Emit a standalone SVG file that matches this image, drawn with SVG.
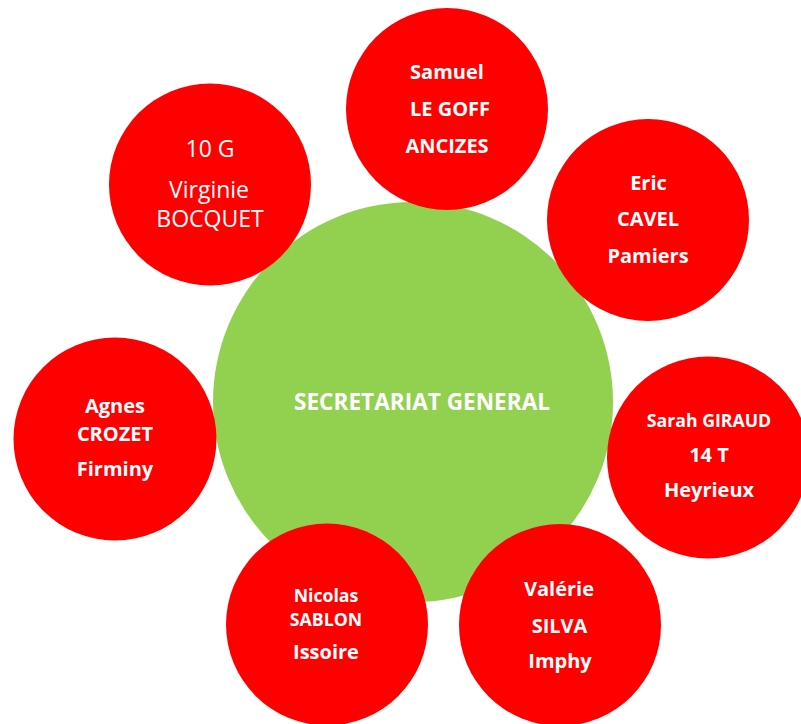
<svg xmlns="http://www.w3.org/2000/svg" width="801" height="724" viewBox="0 0 801 724">
<style>
.hub{fill:#92D050}
.sat{fill:#FF0000}
text{fill:#FFFFFF;font-family:"Open Sans","Noto Sans","Liberation Sans",sans-serif;text-anchor:middle}
.b{font-weight:bold;font-size:20px}
.s{font-size:17.7px}
.r{font-weight:normal;font-size:23px}
.c{font-weight:bold;font-size:22.6px}
</style>
<rect width="801" height="724" fill="#FFFFFF"/>
<g id="connectors"></g>
<g id="hub">
<circle class="hub" cx="413" cy="402" r="200"/>
<text class="c" x="422" y="410">SECRETARIAT GENERAL</text>
</g>
<g id="node-bocquet">
<circle class="sat" cx="210" cy="184.5" r="101"/>
<text class="r" x="210" y="157">10 G</text>
<text class="r" x="209" y="198">Virginie</text>
<text class="r" x="210" y="227">BOCQUET</text>
</g>
<g id="node-legoff">
<circle class="sat" cx="447" cy="109" r="101"/>
<text class="b" x="447" y="79">Samuel</text>
<text class="b" x="450" y="116">LE GOFF</text>
<text class="b" x="447" y="153">ANCIZES</text>
</g>
<g id="node-cavel">
<circle class="sat" cx="648" cy="220" r="101"/>
<text class="b" x="648.5" y="190">Eric</text>
<text class="b" x="648" y="226">CAVEL</text>
<text class="b" x="648" y="263">Pamiers</text>
</g>
<g id="node-giraud">
<circle class="sat" cx="708" cy="457.5" r="101"/>
<text class="b s" x="709" y="427">Sarah GIRAUD</text>
<text class="b" x="709" y="462">14 T</text>
<text class="b" x="709" y="497">Heyrieux</text>
</g>
<g id="node-silva">
<circle class="sat" cx="560" cy="625" r="101"/>
<text class="b" x="559" y="596">Valérie</text>
<text class="b" x="559.5" y="633">SILVA</text>
<text class="b" x="560" y="668">Imphy</text>
</g>
<g id="node-sablon">
<circle class="sat" cx="327" cy="624.5" r="101"/>
<text class="b s" x="326" y="602">Nicolas</text>
<text class="b s" x="326" y="626">SABLON</text>
<text class="b" x="326" y="659">Issoire</text>
</g>
<g id="node-crozet">
<circle class="sat" cx="115" cy="439" r="101.5"/>
<text class="b" x="115" y="413">Agnes</text>
<text class="b" x="115" y="441">CROZET</text>
<text class="b" x="115" y="476">Firminy</text>
</g>
</svg>
